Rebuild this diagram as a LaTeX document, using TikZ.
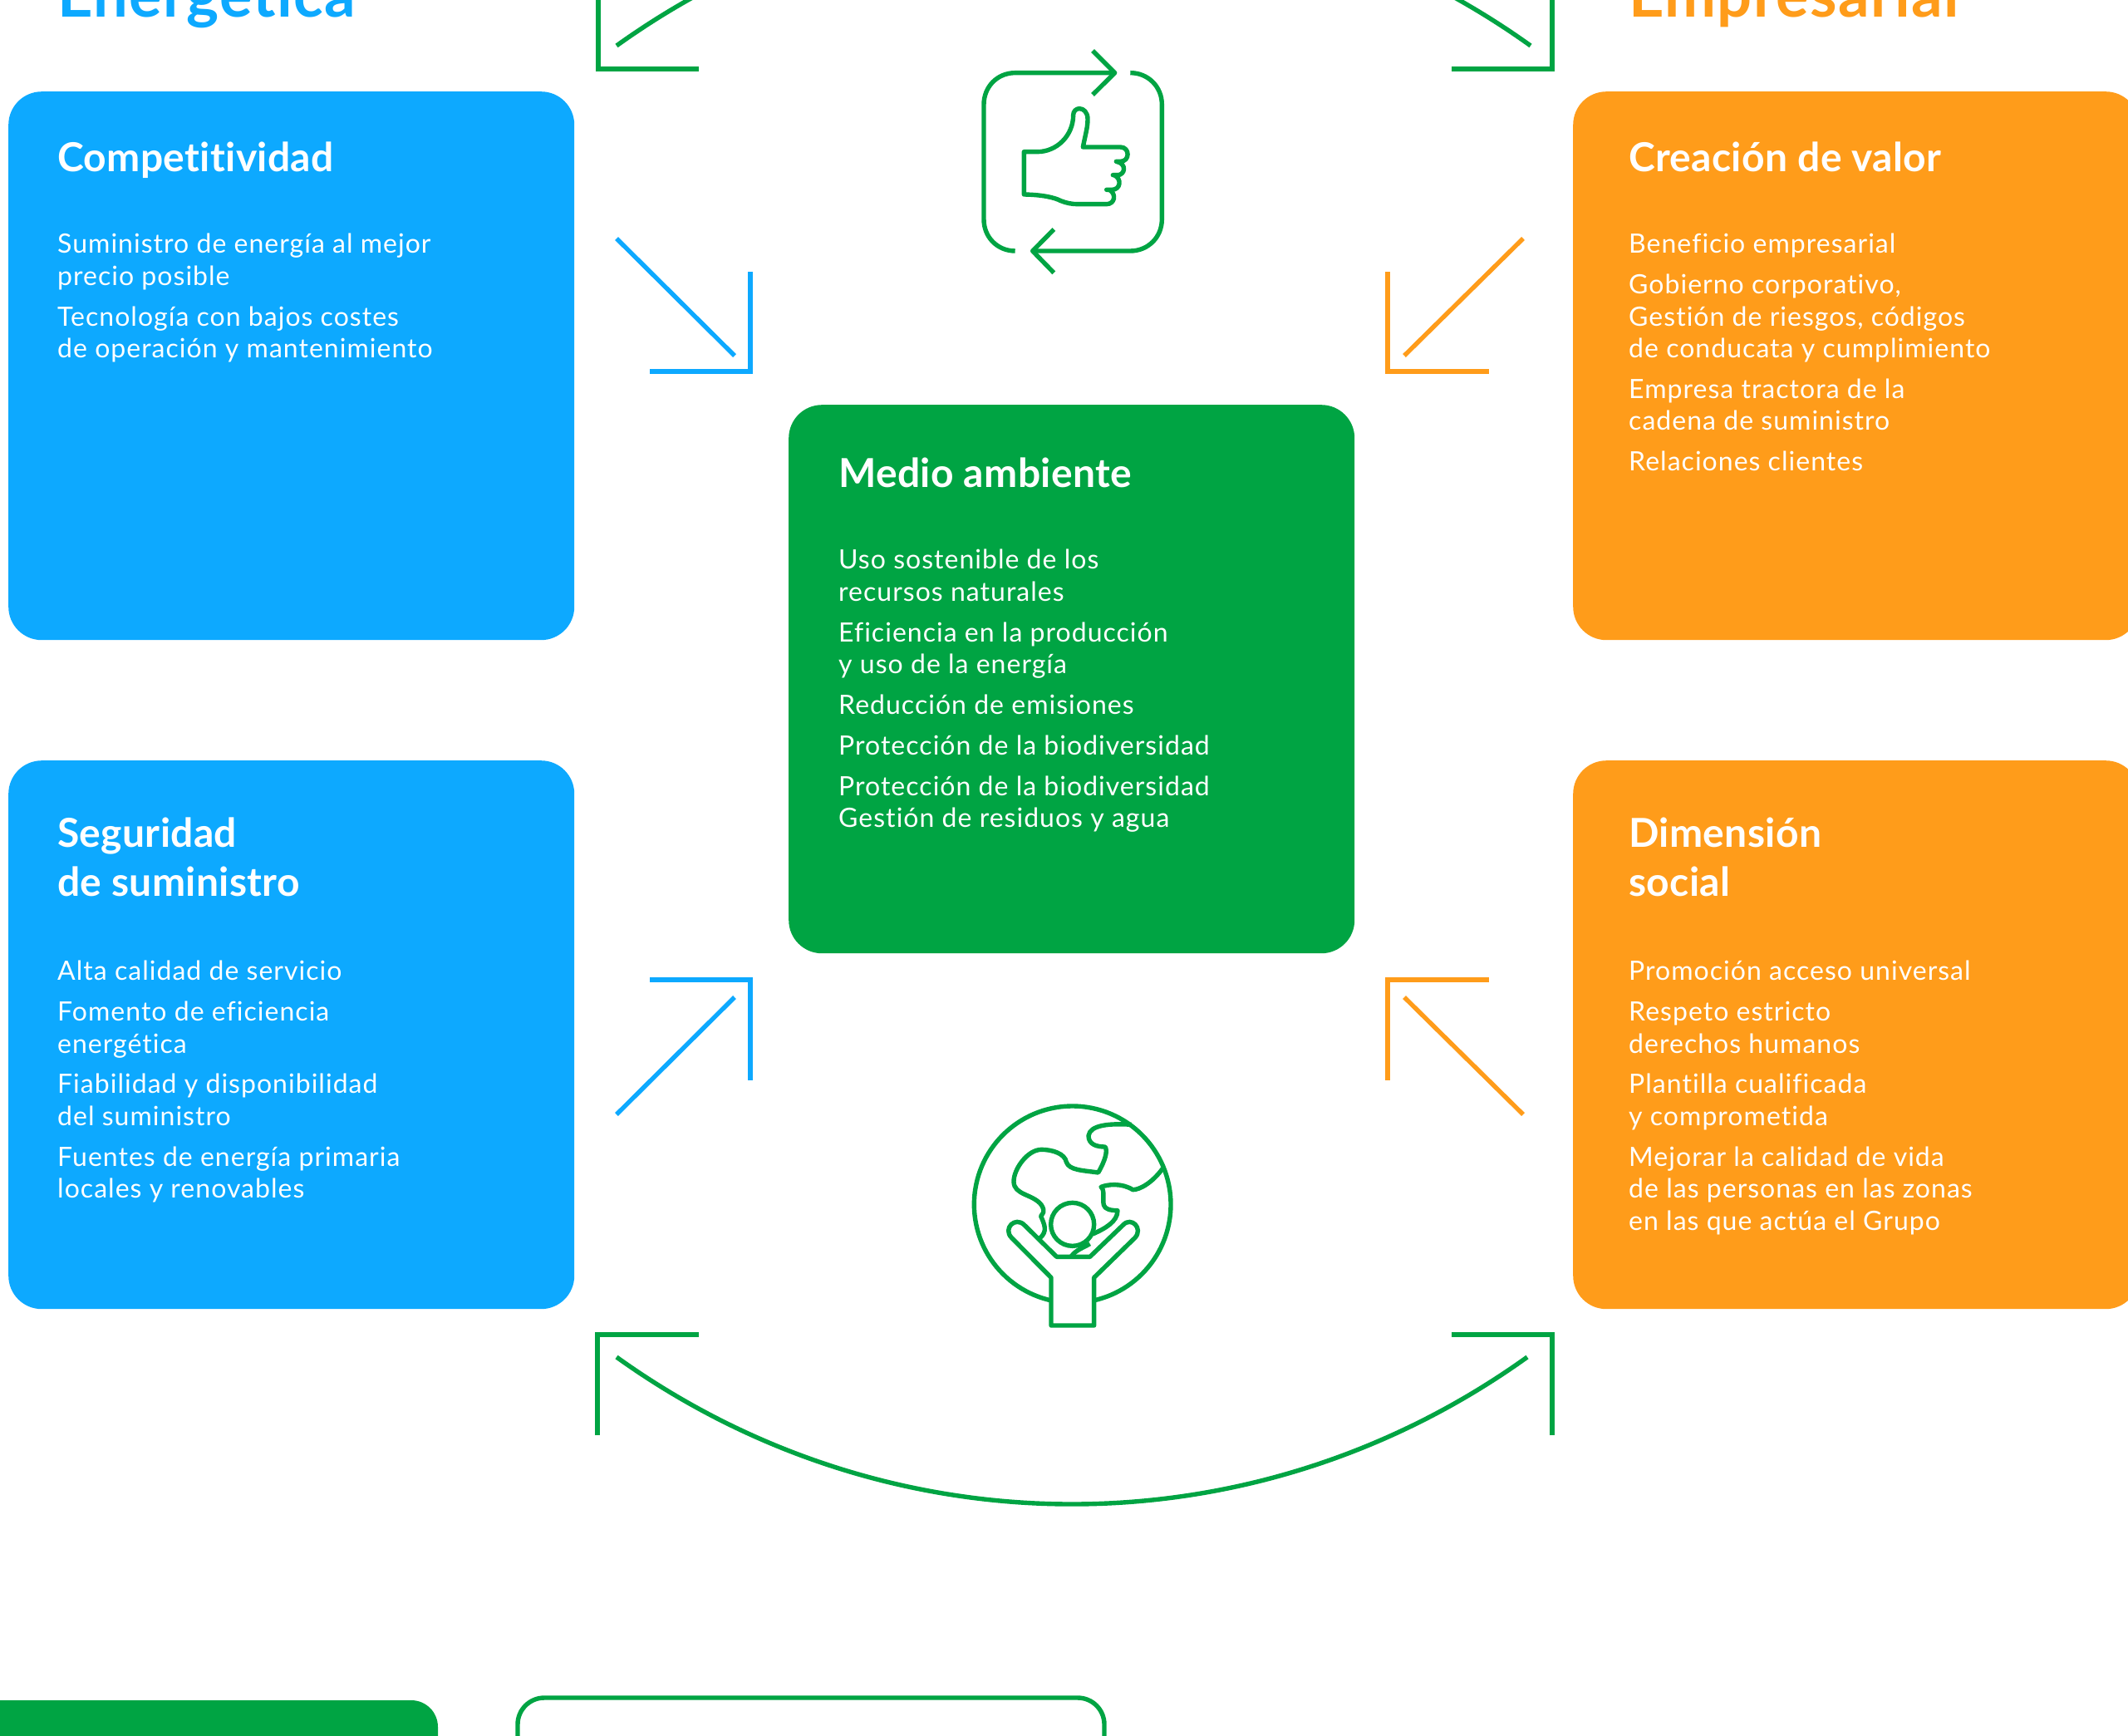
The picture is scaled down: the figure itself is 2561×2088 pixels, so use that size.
\documentclass[tikz,border=0pt]{standalone}
\usepackage{fontspec}
\setmainfont{Lato}[Ligatures=NoCommon]
\newfontfamily\bodyfont{Lato}[Ligatures=NoCommon,LetterSpace=3.2]
\newfontfamily\headfont{Lato}[Ligatures=NoCommon,LetterSpace=0.7]
\newfontfamily\titlefont{Lato}[Ligatures=NoCommon,LetterSpace=1.8]
\definecolor{cblue}{HTML}{0DA9FF}
\definecolor{corange}{HTML}{FF9C1A}
\definecolor{cgreen}{HTML}{00A443}
\tikzset{
  card/.style={rectangle,rounded corners=40pt,minimum width=681pt,minimum height=660pt,anchor=north west,inner sep=0pt,draw=none},
  cardhead/.style={anchor=north west,inner sep=0pt,align=left,text=white,font=\headfont\bfseries\fontsize{48}{59}\selectfont},
  cardbody/.style={anchor=north west,inner sep=0pt,align=left,text=white,font=\bodyfont\fontsize{32}{38.4}\selectfont},
  bigtitle/.style={anchor=base west,inner sep=0pt,font=\titlefont\bfseries\fontsize{74}{80}\selectfont},
  arrowline/.style={line width=5.4pt,line cap=butt,line join=miter},
  iconline/.style={draw=cgreen,line width=5.4pt,line cap=butt,line join=round}
}
\begin{document}
\begin{tikzpicture}[x=1pt,y=-1pt]
\useasboundingbox (0,0) rectangle (2561,2088);
\fill[white] (0,0) rectangle (2561,2088);
% titles
\node[bigtitle,text=cblue] (tEner) at (69,20) {Energética};
\node[bigtitle,text=corange] (tEmpr) at (1960,20) {Empresarial};
% cards
\node[card,fill=cblue] (cComp) at (10,110) {};
\node[card,fill=corange] (cCrea) at (1893,110) {};
\node[card,fill=cblue] (cSegu) at (10,915) {};
\node[card,fill=corange] (cDime) at (1893,915) {};
\node[card,fill=cgreen] (cMedi) at (949,487) {};
% card headings
\node[cardhead] (hComp) at (69,171) {Competitividad};
\node[cardhead] (hCrea) at (1960,171) {Creación de valor};
\node[cardhead] (hMedi) at (1009,551) {Medio ambiente};
\node[cardhead] (hSegu) at (69,984) {Seguridad\\de suministro};
\node[cardhead] (hDime) at (1960,984) {Dimensión\\social};
% card bodies
\node[cardbody] (bComp) at (69,281) {Suministro de energía al mejor\\precio posible\\[10.5pt]Tecnología con bajos costes\\de operación y mantenimiento};
\node[cardbody] (bCrea) at (1960,281) {Beneficio empresarial\\[10.5pt]Gobierno corporativo,\\Gestión de riesgos, códigos\\de conducata y cumplimiento\\[10.5pt]Empresa tractora de la\\cadena de suministro\\[10.5pt]Relaciones clientes};
\node[cardbody] (bMedi) at (1009,661) {Uso sostenible de los\\recursos naturales\\[10.5pt]Eficiencia en la producción\\y uso de la energía\\[10.5pt]Reducción de emisiones\\[10.5pt]Protección de la biodiversidad\\[10.5pt]Protección de la biodiversidad\\Gestión de residuos y agua};
\node[cardbody] (bSegu) at (69,1156) {Alta calidad de servicio\\[10.5pt]Fomento de eficiencia\\energética\\[10.5pt]Fiabilidad y disponibilidad\\del suministro\\[10.5pt]Fuentes de energía primaria\\locales y renovables};
\node[cardbody] (bDime) at (1960,1156) {Promoción acceso universal\\[10.5pt]Respeto estricto\\derechos humanos\\[10.5pt]Plantilla cualificada\\y comprometida\\[10.5pt]Mejorar la calidad de vida\\de las personas en las zonas\\en las que actúa el Grupo};
% arrows: blue/orange
\foreach \nm/\col/\ax/\ay/\bx/\by/\cx/\cy/\px/\py/\qx/\qy in {
  a1/cblue/742/287/884/428/903/447/903/327/782/447,
  a2/corange/1833/287/1690/428/1670/447/1670/327/1792/447,
  a3/cblue/742/1341/884/1200/903/1179/782/1179/903/1300,
  a4/corange/1833/1341/1690/1200/1670/1179/1792/1179/1670/1300}{
  \coordinate (\nm s) at (\ax,\ay);
  \coordinate (\nm e) at (\bx,\by);
  \coordinate (\nm c) at (\cx,\cy);
  \coordinate (\nm p) at (\px,\py);
  \coordinate (\nm q) at (\qx,\qy);
  \draw[arrowline,draw=\col] (\nm s) -- (\nm e);
  \draw[arrowline,draw=\col] (\nm p) -- (\nm c) -- (\nm q);
}
% green curved arrows
\coordinate (tl) at (742,55); \coordinate (tr) at (1842,55);
\coordinate (blc) at (742,1633); \coordinate (brc) at (1838,1633);
\draw[arrowline,draw=cgreen] (tl) .. controls (1071,-181) and (1513,-181) .. (tr);
\draw[arrowline,draw=cgreen] (blc) .. controls (1071,1869) and (1509,1869) .. (brc);
\coordinate (tlc) at (720,83); \coordinate (tla) at (720,-10); \coordinate (tlb) at (841,83);
\coordinate (trc) at (1868,83); \coordinate (tra) at (1868,-10); \coordinate (trb) at (1747,83);
\draw[arrowline,draw=cgreen] (tla) -- (tlc) -- (tlb);
\draw[arrowline,draw=cgreen] (tra) -- (trc) -- (trb);
\coordinate (alc) at (719,1606); \coordinate (ala) at (719,1727); \coordinate (alb) at (841,1606);
\coordinate (arc) at (1868,1606); \coordinate (ara) at (1868,1727); \coordinate (arb) at (1747,1606);
\draw[arrowline,draw=cgreen] (ala) -- (alc) -- (alb);
\draw[arrowline,draw=cgreen] (ara) -- (arc) -- (arb);
% bottom boxes
\fill[cgreen,rounded corners=32pt] (-80,2046) rectangle (527,2200);
\draw[cgreen,line width=5.4pt,rounded corners=32pt] (623,2043) rectangle (1329,2200);
% thumb icon
\begin{scope}[shift={(1100,0)},scale=1/3]
  \draw[iconline] (781,263) .. controls (845,263) and (895,313) .. (895,377) -- (895,792) .. controls (895,856) and (845,906) .. (781,906) -- (428,906);
  \draw[iconline] (505,828) -- (428,906) -- (505,985);
  \draw[iconline] (365,906) .. controls (301,906) and (252,856) .. (252,792) -- (252,377) .. controls (252,313) and (301,263) .. (365,263) -- (725,263);
  \draw[iconline] (645,183) -- (725,263) -- (645,342);
  \draw[iconline] (397,548) -- (397,702) .. controls (460,703) and (505,712) .. (530,725) .. controls (550,733) and (570,737) .. (590,737) -- (695,737) .. controls (725,737) and (732,700) .. (705,685) -- (695,685) -- (715,685) .. controls (745,685) and (752,645) .. (722,632) -- (718,632) -- (735,632) .. controls (762,632) and (770,590) .. (730,583) -- (745,583) .. controls (780,583) and (780,531) .. (745,531) -- (610,531) .. controls (620,480) and (627,460) .. (627,430) .. controls (627,405) and (612,392) .. (597,392) .. controls (585,392) and (575,402) .. (575,415) .. controls (575,490) and (515,548) .. (445,548) -- cycle;
\end{scope}
% globe icon
\begin{scope}[shift={(1130,1300)},scale=1/3]
  \draw[iconline] (482,448) circle[radius=355];
  \draw[iconline,fill=white] (405,712) -- (262,568) .. controls (230,535) and (275,490) .. (308,522) -- (425,637) -- (545,637) -- (665,522) .. controls (695,490) and (738,535) .. (708,568) -- (560,712) -- (560,885) -- (405,885) -- cycle;
  \draw[iconline] (695,160) .. controls (620,155) and (545,160) .. (540,200) .. controls (540,232) and (570,240) .. (600,240) .. controls (610,255) and (600,290) .. (575,333) .. controls (520,325) and (470,325) .. (460,295) .. controls (455,265) and (410,250) .. (370,250) .. controls (320,250) and (270,320) .. (270,365) .. controls (270,415) and (340,410) .. (370,450) .. controls (385,475) and (375,480) .. (368,490) .. controls (380,520) and (395,545) .. (362,572);
  \draw[iconline] (808,318) .. controls (770,370) and (725,395) .. (700,395) .. controls (660,370) and (610,375) .. (585,385) .. controls (600,395) and (590,430) .. (595,450) .. controls (598,465) and (620,470) .. (645,470) .. controls (645,510) and (600,535) .. (555,555);
  \draw[iconline] (545,590) .. controls (520,605) and (495,612) .. (478,635);
  \draw[iconline,fill=white] (482,520) circle[radius=78];
\end{scope}
\end{tikzpicture}
\end{document}
